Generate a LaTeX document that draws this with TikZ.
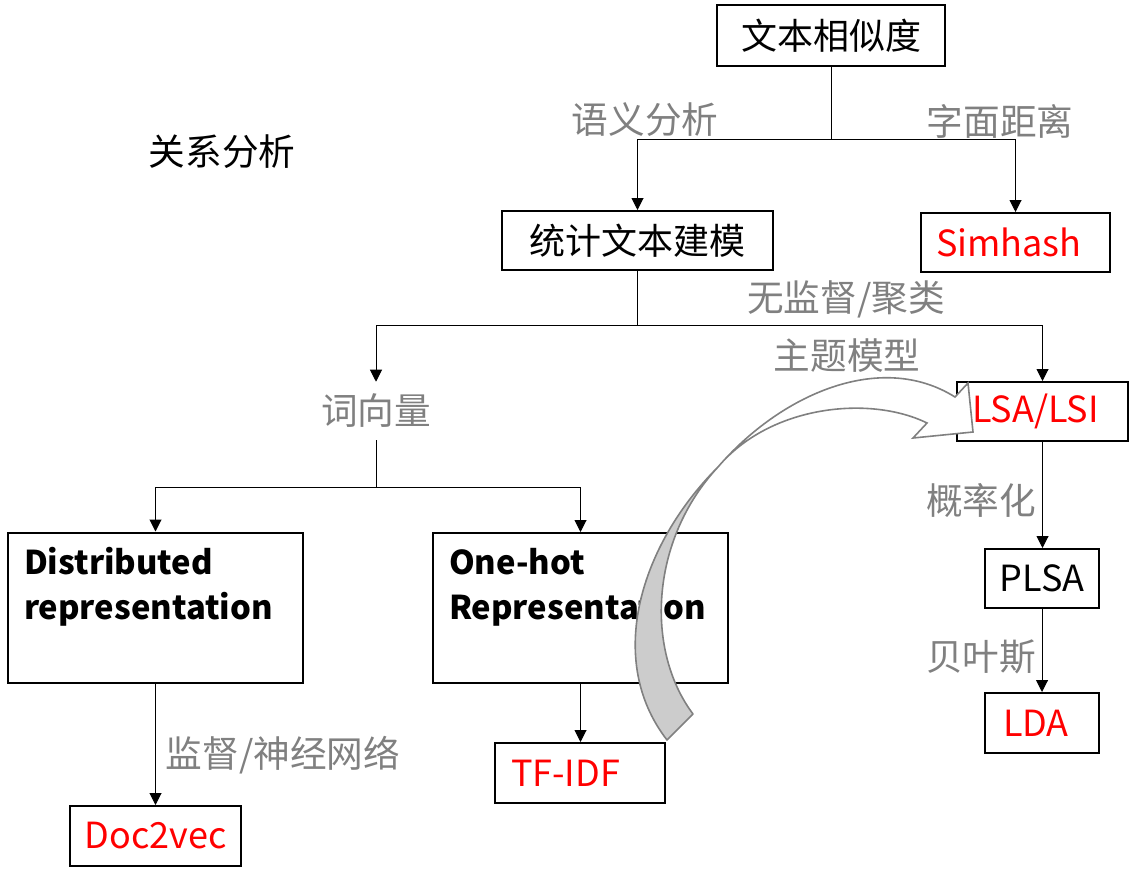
\documentclass[tikz,border=0pt]{standalone}
\usepackage{fontspec}
\setmainfont{Noto Sans CJK SC}
\usetikzlibrary{arrows.meta}
\definecolor{lblgray}{HTML}{808080}
\definecolor{rd}{HTML}{FF0000}
\definecolor{arrfill}{HTML}{CCCCCC}
\begin{document}
\begin{tikzpicture}[x=0.75pt,y=-0.75pt,
 box/.style={draw,line width=1.5pt,inner sep=0pt,align=center,font=\fontsize{27}{32}\selectfont},
 lbox/.style={box,align=left,inner xsep=11.25pt},
 bigbox/.style={draw,line width=1.5pt,inner ysep=0pt,inner xsep=12pt,align=left,
   text width={(295-32)*0.75pt},minimum height={150*0.75pt},font=\bfseries\fontsize{24.6}{33.75}\selectfont},
 lbl/.style={text=lblgray,font=\fontsize{27.5}{32}\selectfont,inner sep=0pt},
 conn/.style={line width=0.75pt},
 arr/.style={conn,-{Triangle[length=9pt,width=9pt]}}]
\useasboundingbox (0,0) rectangle (1131,881);
% boxes
\node[box,minimum width={228*0.75pt},minimum height={61*0.75pt}] (sim) at (831,35.5) {文本相似度};
\node[box,minimum width={271*0.75pt},minimum height={59*0.75pt}] (tong) at (637.5,240.5) {统计文本建模};
\node[lbox,text=rd,text width={(189-30)*0.75pt},minimum height={59*0.75pt}] (simhash) at (1015.5,242.5) {Simhash};
\node[lbox,text=rd,text width={(171-30)*0.75pt},minimum height={59*0.75pt}] (lsa) at (1042.5,411.5) {LSA/LSI};
\node[box,minimum width={114*0.75pt},minimum height={59*0.75pt}] (plsa) at (1042,578.5) {PLSA};
\node[lbox,text=rd,text width={(114-36)*0.75pt},inner xsep=13.5pt,minimum height={60*0.75pt}] (lda) at (1042,723) {LDA};
\node[bigbox] (dist) at (155.5,607.5) {Distributed\\representation\\[-7.5pt]\strut};
\node[bigbox] (onehot) at (580.5,608) {One-hot\\Representation\\[-7.5pt]\strut};
\node[lbox,text=rd,text width={(170-32)*0.75pt},inner xsep=12pt,minimum height={60*0.75pt}] (tfidf) at (580,773) {TF-IDF};
\node[box,text=rd,minimum width={171*0.75pt},minimum height={60*0.75pt}] (doc) at (155.5,836) {Doc2vec};
% labels
\node[lbl,minimum height={58*0.75pt}] (ciliang) at (376,411) {词向量};
\node[lbl] (l1) at (645,120) {语义分析};
\node[lbl] (l2) at (1000,121) {字面距离};
\node[inner sep=0pt,font=\fontsize{27.5}{32}\selectfont] (l0) at (222,152) {关系分析};
\node[lbl] (l3) at (846,299) {无监督/聚类};
\node[lbl] (l4) at (847,356) {主题模型};
\node[lbl] (l5) at (981,500) {概率化};
\node[lbl] (l6) at (981,657) {贝叶斯};
\node[lbl] (l7) at (283,755) {监督/神经网络};
% connectors
\coordinate (j1) at (831,139);
\draw[conn] (sim.south) -- (j1);
\draw[arr] (j1) -| (tong.north);
\draw[arr] (j1) -| (simhash.north);
\coordinate (j2) at (637.5,325);
\draw[conn] (tong.south) -- (j2);
\draw[arr] (j2) -| (ciliang.north);
\draw[arr] (j2) -| (lsa.north);
\coordinate (j3) at (376,487);
\draw[conn] (ciliang.south) -- (j3);
\draw[arr] (j3) -| (dist.north);
\draw[arr] (j3) -| (onehot.north);
\draw[arr] (dist.south) -- (doc.north);
\draw[arr] (onehot.south) -- (onehot.south |- tfidf.north);
\draw[arr] (lsa.south) -- (lsa.south |- plsa.north);
\draw[arr] (plsa.south) -- (plsa.south |- lda.north);
% curved block arrow
\coordinate (tw) at (718,467);
\filldraw[fill=arrfill,draw=lblgray,line width=1.2pt,line join=round]
  (tw) .. controls (640,545) and (605,660) .. (667,740) -- (693,714)
  .. controls (645,650) and (650,540) .. (tw) -- cycle;
\filldraw[fill=white,draw=lblgray,line width=1.2pt,line join=miter]
  (tw) .. controls (780,395) and (880,350) .. (955,397) -- (968,383) -- (973,432) -- (913,438) -- (927,423)
  .. controls (870,395) and (770,405) .. (tw) -- cycle;
\end{tikzpicture}
\end{document}
